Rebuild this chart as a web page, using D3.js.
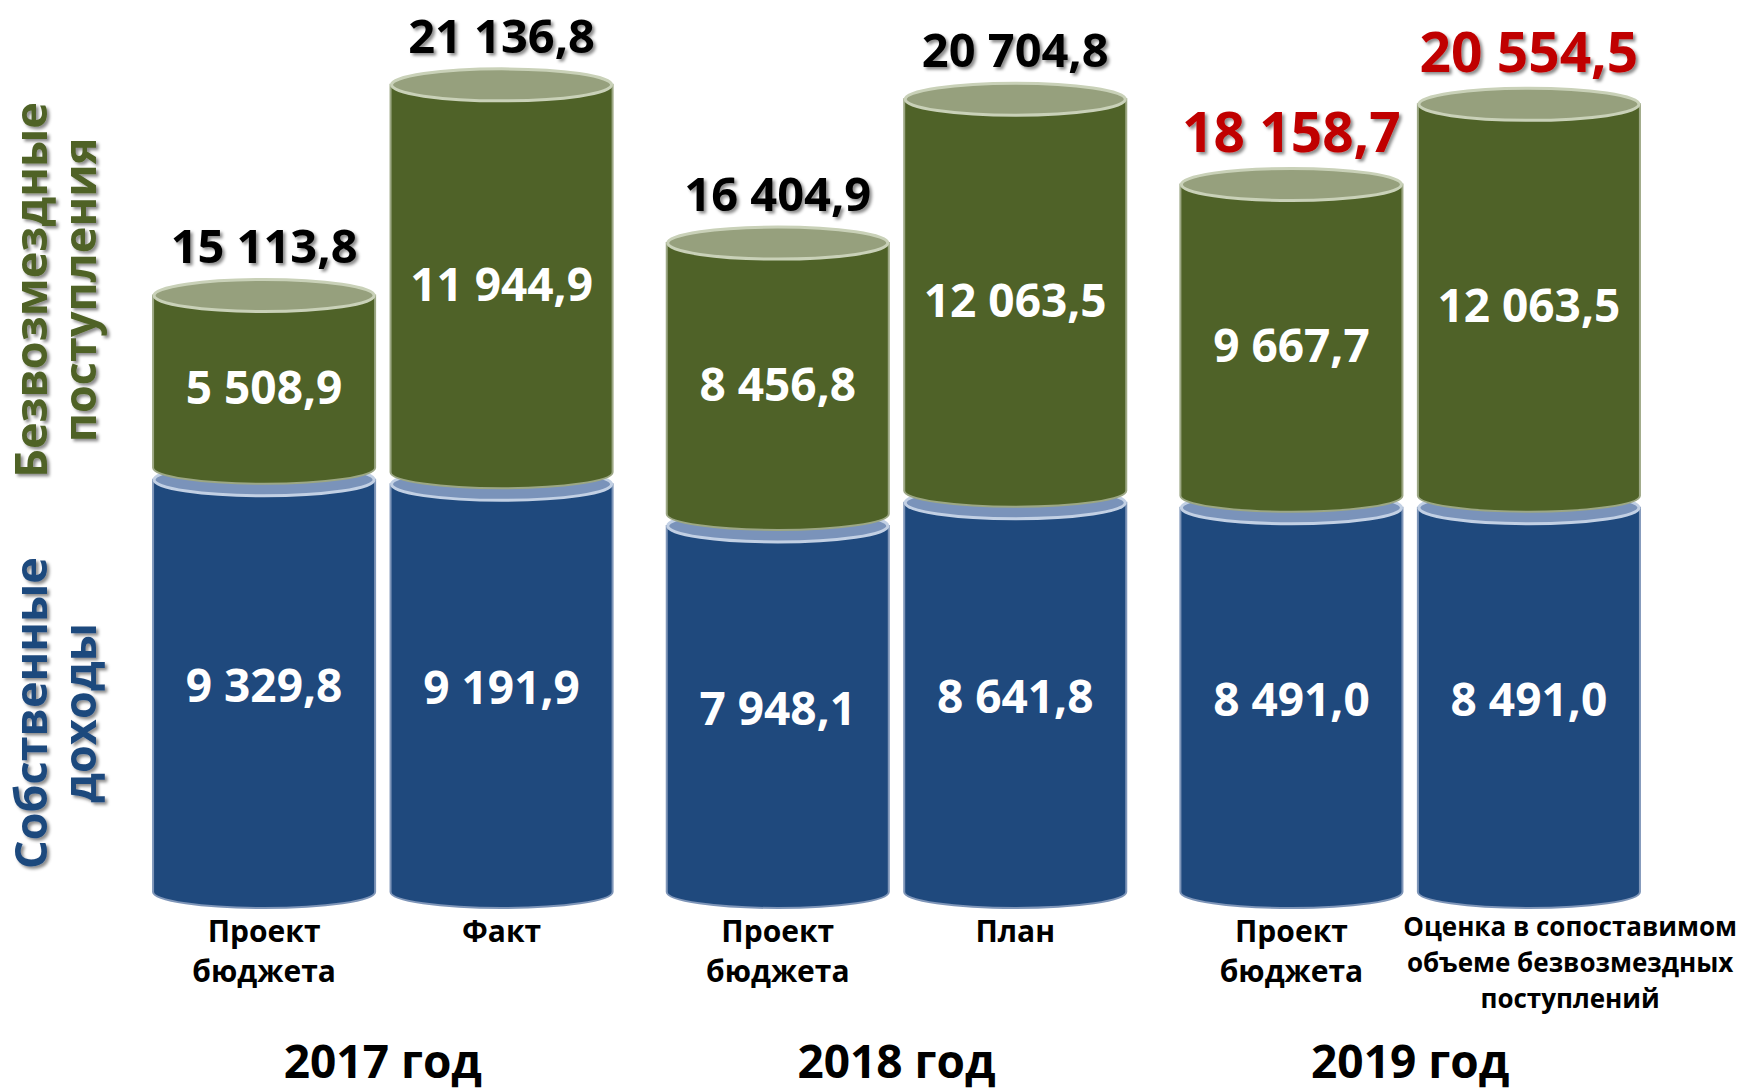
<!DOCTYPE html>
<html lang="ru">
<head>
<meta charset="utf-8">
<title>Доходы бюджета</title>
<script src="https://cdn.jsdelivr.net/npm/d3@7"></script>
<style>
  html, body { margin: 0; padding: 0; background: #fff; }
  svg { display: block; font-family: "Open Sans", "DejaVu Sans", sans-serif; font-weight: 700; }
</style>
</head>
<body>
<svg id="chart" width="1747" height="1090"></svg>
<script>
// values
var years = ["2017 год", "2018 год", "2019 год"];
var barYear = ["2017 год", "2017 год", "2018 год", "2018 год", "2019 год", "2019 год"];
var barNames = ["Проект\nбюджета", "Факт", "Проект\nбюджета", "План", "Проект\nбюджета",
                "Оценка в сопоставимом\nобъеме безвозмездных\nпоступлений"];
var ownIncome = [9329.8, 9191.9, 7948.1, 8641.8, 8491.0, 8491.0];
var transfers = [5508.9, 11944.9, 8456.8, 12063.5, 9667.7, 12063.5];
var totals = [15113.8, 21136.8, 16404.9, 20704.8, 18158.7, 20554.5];
var seriesTitles = [["Собственные", "доходы"], ["Безвозмездные", "поступления"]];
var highlightYear = "2019 год";

var svg = d3.select("#chart"),
    width = +svg.attr("width"),
    height = +svg.attr("height"),
    ry = 16,
    gapY = 12;

var ru = d3.formatLocale({decimal: ",", thousands: " ", grouping: [3], currency: ["", ""]});
var fmt = ru.format(",.1f");

var x0 = d3.scaleBand().domain(years).range([126, 1667]);
var perYear = d3.max(years, function(yr) { return barYear.filter(function(b) { return b == yr; }).length; });
var x1 = d3.scaleBand().domain(d3.range(perYear)).range([0, x0.bandwidth()])
    .paddingInner(0.065).paddingOuter(0.114);

// value axis is not drawn; it starts below zero like the original chart
var y = d3.scaleLinear().domain([-3000, 22000]).range([892, 56]);
var baseY = y(y.domain()[0]);

var colors = {
    blue: "#1F497D", blueEdge: "#7E95B8", blueTop: "#7A93BA", blueTopEdge: "#C2D0E4",
    green: "#4F6228", greenEdge: "#9CA784", greenTop: "#96A07D", greenTopEdge: "#C9D1B8",
    red: "#C00000"
};

var defs = svg.append("defs");
defs.append("filter").attr("id", "shadow")
    .attr("x", "-10%").attr("y", "-20%").attr("width", "130%").attr("height", "150%")
  .append("feDropShadow")
    .attr("dx", 2.5).attr("dy", 2.5).attr("stdDeviation", 1.6)
    .attr("flood-color", "#000").attr("flood-opacity", 0.45);

svg.append("rect").attr("width", width).attr("height", height).attr("fill", "#fff");

var bars = barYear.map(function(yr, i) {
    var slot = barYear.slice(0, i).filter(function(b) { return b == yr; }).length;
    var left = x0(yr) + x1(slot);
    return {
        i: i, year: yr, name: barNames[i],
        left: left, right: left + x1.bandwidth(), cx: left + x1.bandwidth() / 2,
        own: ownIncome[i], tr: transfers[i], total: totals[i]
    };
});

function bodyPath(l, r, yTop, yBot)
{
    var rx = (r - l) / 2;
    return "M" + l + "," + yTop + "L" + l + "," + yBot +
        "A" + rx + "," + ry + " 0 0 0 " + r + "," + yBot +
        "L" + r + "," + yTop + "Z";
}

var bar = svg.append("g").attr("class", "bars")
    .selectAll("g")
    .data(bars)
    .enter().append("g");

// own income cylinder
bar.append("path")
    .attr("d", function(d) { return bodyPath(d.left, d.right, y(d.own), baseY); })
    .style("fill", colors.blue)
    .style("stroke", colors.blueEdge)
    .style("stroke-width", 2);

bar.append("ellipse")
    .attr("cx", function(d) { return d.cx; })
    .attr("cy", function(d) { return y(d.own); })
    .attr("rx", x1.bandwidth() / 2 - 1)
    .attr("ry", ry)
    .style("fill", colors.blueTop)
    .style("stroke", colors.blueTopEdge)
    .style("stroke-width", 3);

// transfers cylinder sitting on top
bar.append("path")
    .attr("d", function(d) { return bodyPath(d.left, d.right, y(d.own + d.tr), y(d.own) - gapY); })
    .style("fill", colors.green)
    .style("stroke", colors.greenEdge)
    .style("stroke-width", 2);

bar.append("ellipse")
    .attr("cx", function(d) { return d.cx; })
    .attr("cy", function(d) { return y(d.own + d.tr); })
    .attr("rx", x1.bandwidth() / 2 - 1)
    .attr("ry", ry)
    .style("fill", colors.greenTop)
    .style("stroke", colors.greenTopEdge)
    .style("stroke-width", 3);

// values inside segments
bar.append("text")
    .attr("x", function(d) { return d.cx; })
    .attr("y", function(d) { return (baseY + y(d.own)) / 2; })
    .attr("dy", "0.35em")
    .attr("text-anchor", "middle")
    .style("fill", "#fff")
    .style("font-size", "46px")
    .text(function(d) { return fmt(d.own); });

bar.append("text")
    .attr("x", function(d) { return d.cx; })
    .attr("y", function(d) { return (y(d.own) + y(d.own + d.tr)) / 2; })
    .attr("dy", "0.35em")
    .attr("text-anchor", "middle")
    .style("fill", "#fff")
    .style("font-size", "46px")
    .text(function(d) { return fmt(d.tr); });

// totals above cylinders
bar.append("text")
    .attr("x", function(d) { return d.cx; })
    .attr("y", function(d) { return y(d.own + d.tr) - 32; })
    .attr("text-anchor", "middle")
    .attr("filter", "url(#shadow)")
    .style("fill", function(d) { return d.year == highlightYear ? colors.red : "#000"; })
    .style("font-size", function(d) { return d.year == highlightYear ? "55px" : "47px"; })
    .text(function(d) { return fmt(d.total); });

// category labels
var cat = svg.append("g").attr("class", "categories")
    .selectAll("text")
    .data(bars)
    .enter().append("text")
    .attr("text-anchor", "middle")
    .style("fill", "#000")
    .style("font-size", function(d) { return d.name.split("\n").length > 2 ? "26px" : "30px"; });

var prevRight = 0;
cat.each(function(d) {
    var lines = d.name.split("\n"),
        big = lines.length <= 2,
        t = d3.select(this);
    t.attr("y", big ? 942 : 936);
    lines.forEach(function(line, k) {
        t.append("tspan")
            .attr("x", d.cx)
            .attr("dy", k == 0 ? 0 : (big ? 40 : 36))
            .text(line);
    });
    // push wide labels away from the neighbour, but keep them inside the picture
    var w = d3.max(t.selectAll("tspan").nodes(), function(n) { return n.getComputedTextLength(); });
    var cx = Math.max(d.cx, prevRight + 40 + w / 2);
    cx = Math.min(cx, width - 6 - w / 2);
    t.selectAll("tspan").attr("x", cx);
    prevRight = cx + w / 2;
});

// year labels
svg.append("g").attr("class", "years")
    .selectAll("text")
    .data(years)
    .enter().append("text")
    .attr("x", function(d) { return x0(d) + x0.bandwidth() / 2; })
    .attr("y", 1078)
    .attr("text-anchor", "middle")
    .style("font-size", "46px")
    .style("fill", "#000")
    .text(function(d) { return d; });

// rotated series titles on the left
var titleColors = [colors.blue, colors.green];
var titleCenters = [713, 290];
seriesTitles.forEach(function(lines, s) {
    var t = svg.append("g")
        .attr("filter", "url(#shadow)")
      .append("g")
        .attr("transform", "translate(47," + titleCenters[s] + ") rotate(-90)")
      .append("text")
        .attr("text-anchor", "middle")
        .style("fill", titleColors[s])
        .style("font-size", "45px");
    lines.forEach(function(line, k) {
        t.append("tspan").attr("x", 0).attr("dy", k == 0 ? 0 : 49).text(line);
    });
});
</script>
</body>
</html>
